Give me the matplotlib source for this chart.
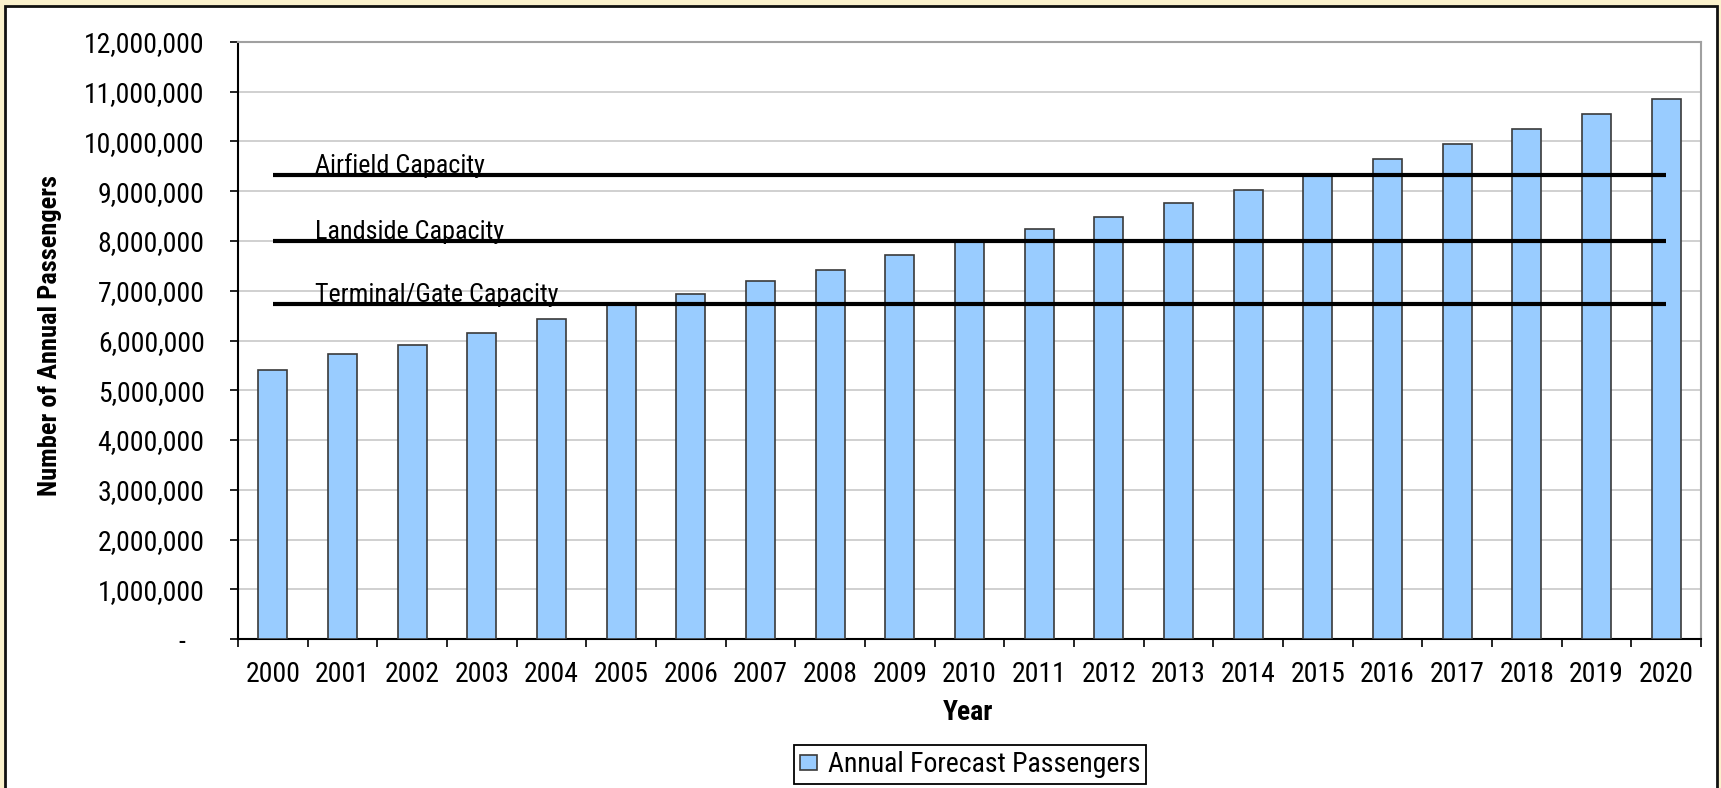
import numpy as np
import matplotlib
matplotlib.use("Agg")
import matplotlib.pyplot as plt
from matplotlib.ticker import FuncFormatter, FixedLocator
from matplotlib.patches import Rectangle

years = [str(y) for y in range(2000, 2021)]
passengers = [5.41, 5.73, 5.90, 6.16, 6.43, 6.72, 6.93, 7.20, 7.42, 7.72, 8.02,
              8.25, 8.48, 8.76, 9.03, 9.30, 9.64, 9.95, 10.26, 10.55, 10.85]
passengers = [v * 1e6 for v in passengers]
cap_names = ['Airfield Capacity', 'Landside Capacity', 'Terminal/Gate Capacity']
cap_values = [9.32e6, 8.0e6, 6.73e6]

plt.rcParams['font.family'] = ['Roboto Condensed', 'DejaVu Sans']
plt.rcParams['font.size'] = 20

fig = plt.figure(figsize=(17.21, 7.88), dpi=100, facecolor='#FAF1CC')
# white chart area with black frame
fig.patches.append(Rectangle((5 / 1721, -0.05), 1712 / 1721, (788 - 6) / 788 + 0.05,
                             transform=fig.transFigure, facecolor='white',
                             edgecolor='#111111', linewidth=2, zorder=-10))

ax = fig.add_axes([238 / 1721, 149 / 788, (1701 - 238) / 1721, (639 - 42) / 788])
x = np.arange(len(years))
bars = ax.bar(x, passengers, width=0.42, color='#99CCFF', edgecolor='#3a3a3a',
              linewidth=1.2, zorder=3, label='Annual Forecast Passengers')

for name, val in zip(cap_names, cap_values):
    ax.plot([0, len(years) - 1], [val, val], color='black', linewidth=3, zorder=4,
            solid_capstyle='butt')
    ax.text(0.61, val + 0.04e6, name, ha='left', va='baseline', fontsize=18.8, zorder=5)

ax.set_xlim(-0.5, len(years) - 0.5)
ax.set_ylim(0, 12e6)
ax.set_yticks(np.arange(0, 12e6 + 1, 1e6))
ax.yaxis.set_major_formatter(FuncFormatter(lambda v, p: '-   ' if v == 0 else f'{v:,.0f}'))
ax.yaxis.grid(True, color='#C8C8C8', linewidth=1.2, zorder=0)
ax.set_axisbelow(True)

ax.set_xticks(x)
ax.set_xticklabels(years)
ax.xaxis.set_minor_locator(FixedLocator(np.arange(-0.5, len(years), 1.0)))
ax.tick_params(axis='x', which='major', length=0, pad=16)
ax.tick_params(axis='x', which='minor', length=6, width=1.2, direction='out')
ax.tick_params(axis='y', length=6, width=1.2, pad=18)

for s in ['top', 'right']:
    ax.spines[s].set_color('#A0A0A0')
    ax.spines[s].set_linewidth(1.5)
for s in ['left', 'bottom']:
    ax.spines[s].set_color('black')
    ax.spines[s].set_linewidth(1.5)

ax.set_ylabel('Number of Annual Passengers', fontweight='bold', fontsize=19)
ax.yaxis.set_label_coords(62 / 1721, (788 - 336) / 788, transform=fig.transFigure)
ax.set_xlabel('Year', fontweight='bold', fontsize=20)
ax.xaxis.set_label_coords(968 / 1721, (788 - 699) / 788, transform=fig.transFigure)

leg = fig.legend(handles=[bars], loc='center', bbox_to_anchor=(970 / 1721, (788 - 764.5) / 788),
                 frameon=True, fancybox=False, shadow=False, handlelength=0.6,
                 handleheight=0.45, handletextpad=0.4, borderpad=0.2, fontsize=20)
leg.get_frame().set_edgecolor('black')
leg.get_frame().set_linewidth(1.3)
leg.get_frame().set_alpha(1)

fig.savefig('out.png', dpi=100, facecolor=fig.get_facecolor())
